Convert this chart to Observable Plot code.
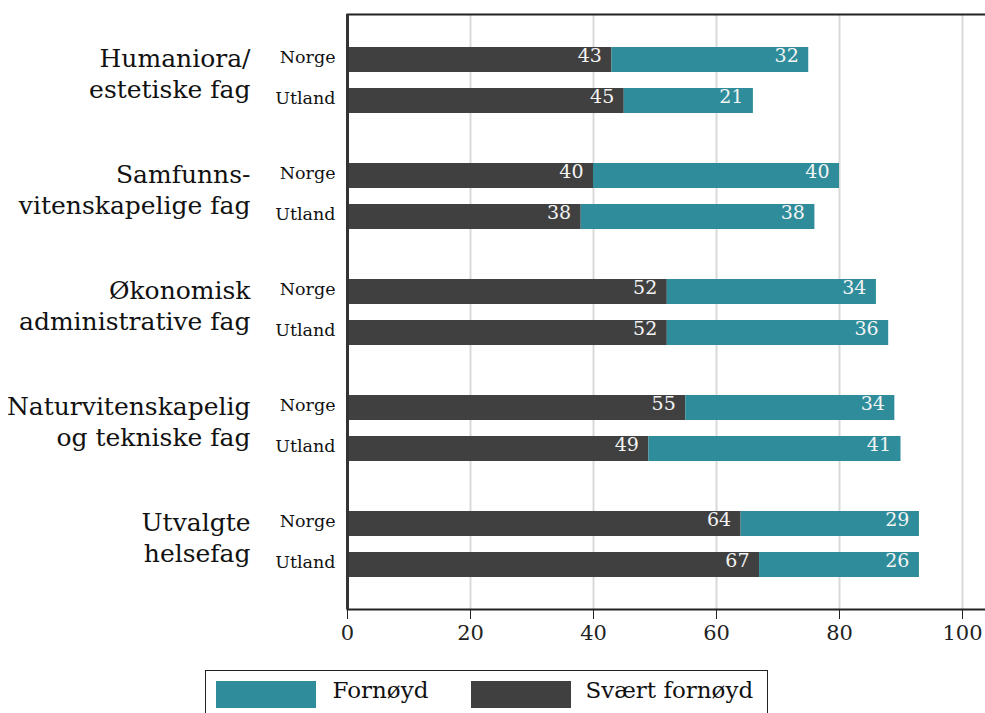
<!DOCTYPE html>
<html>
<head>
<meta charset="utf-8">
<script src="https://cdn.jsdelivr.net/npm/d3@7"></script>
<script src="https://cdn.jsdelivr.net/npm/@observablehq/plot@0.6"></script>
<style>
  body { margin: 0; background: #fff; font-family: "DejaVu Serif", serif; }
  #legend { position: relative; margin-left: 205px; margin-top: 10px; width: 563px; height: 60px;
            border: 1.5px solid #222; border-bottom: none; box-sizing: border-box; }
  #legend .sw { position: absolute; top: 9.5px; width: 100px; height: 27px; }
  #legend .lt { position: absolute; top: 8px; font-size: 23px; line-height: 1; color: #111; white-space: nowrap; }
</style>
</head>
<body>
<div id="chart"></div>
<div id="legend"></div>
<script>
// ---- data ----
const categories = [
  "Humaniora/\nestetiske fag",
  "Samfunns-\nvitenskapelige fag",
  "Økonomisk\nadministrative fag",
  "Naturvitenskapelig\nog tekniske fag",
  "Utvalgte\nhelsefag"
];
const locations = ["Norge", "Utland"];
const types = ["Svært fornøyd", "Fornøyd"];      // stack order (left to right)
const legendOrder = ["Fornøyd", "Svært fornøyd"];
const colors = ["#2e8c9b", "#404040"];            // Fornøyd, Svært fornøyd
const sværtNorge   = [43, 40, 52, 55, 64];
const fornøydNorge = [32, 40, 34, 34, 29];
const sværtUtland   = [45, 38, 52, 49, 67];
const fornøydUtland = [21, 38, 36, 41, 26];
const xTicks = [0, 20, 40, 60, 80, 100];

// ---- table ----
const series = {
  Norge:  {"Svært fornøyd": sværtNorge,  "Fornøyd": fornøydNorge},
  Utland: {"Svært fornøyd": sværtUtland, "Fornøyd": fornøydUtland}
};
const rows = [];
categories.forEach((c, i) => {
  locations.forEach(loc => {
    types.forEach(t => rows.push({cat: c, loc, type: t, value: series[loc][t][i]}));
  });
});

const inset = {Norge: {insetTop: 25, insetBottom: 66}, Utland: {insetTop: 66, insetBottom: 25}};
const off = {Norge: -20.5, Utland: 20.5};

const marks = [
  Plot.ruleX(xTicks.slice(1), {stroke: "#d9d9d9", strokeWidth: 2})
];
locations.forEach(loc => {
  const d = rows.filter(r => r.loc === loc);
  marks.push(
    Plot.barX(d, Plot.stackX({x: "value", y: "cat", fill: "type", ...inset[loc]})),
    Plot.text(d, Plot.stackX2({x: "value", y: "cat", text: "value", fill: "#f4f4f4",
      textAnchor: "end", dx: -10, dy: off[loc] - 4, fontSize: 19})),
    Plot.text(categories, {y: c => c, text: () => loc, frameAnchor: "left", textAnchor: "end",
      dx: -12, dy: off[loc] - 3, fontSize: 17.5, fill: "#111"})
  );
});
marks.push(
  Plot.text(categories, {y: c => c, text: c => c, frameAnchor: "left", textAnchor: "end",
    dx: -97, dy: -8, fontSize: 25, lineHeight: 1.25, fill: "#111"}),
  Plot.frame({stroke: "#222", strokeWidth: 2, insetRight: -30}),
  Plot.ruleX([0], {stroke: "#333", strokeWidth: 3})
);

const chart = Plot.plot({
  width: 985,
  height: 660,
  marginTop: 14,
  marginBottom: 51,
  marginLeft: 347,
  marginRight: 23,
  style: {fontFamily: "DejaVu Serif", fontSize: "21px", color: "#222", background: "#fff", overflow: "hidden"},
  x: {domain: [0, 100], ticks: xTicks, tickSize: 10, tickPadding: 6, tickFormat: d => d, label: null},
  y: {domain: categories, axis: null, paddingInner: 0, paddingOuter: 0.058},
  color: {domain: legendOrder, range: colors},
  marks
});
document.getElementById("chart").appendChild(chart);

// ---- legend (HTML, below the SVG) ----
const leg = document.getElementById("legend");
const swLeft = [9.5, 264.5], txtLeft = [126.5, 379.5];
legendOrder.forEach((t, i) => {
  const sw = document.createElement("div");
  sw.className = "sw"; sw.style.left = swLeft[i] + "px"; sw.style.background = colors[i];
  const tx = document.createElement("div");
  tx.className = "lt"; tx.style.left = txtLeft[i] + "px"; tx.textContent = t;
  leg.appendChild(sw); leg.appendChild(tx);
});
</script>
</body>
</html>
